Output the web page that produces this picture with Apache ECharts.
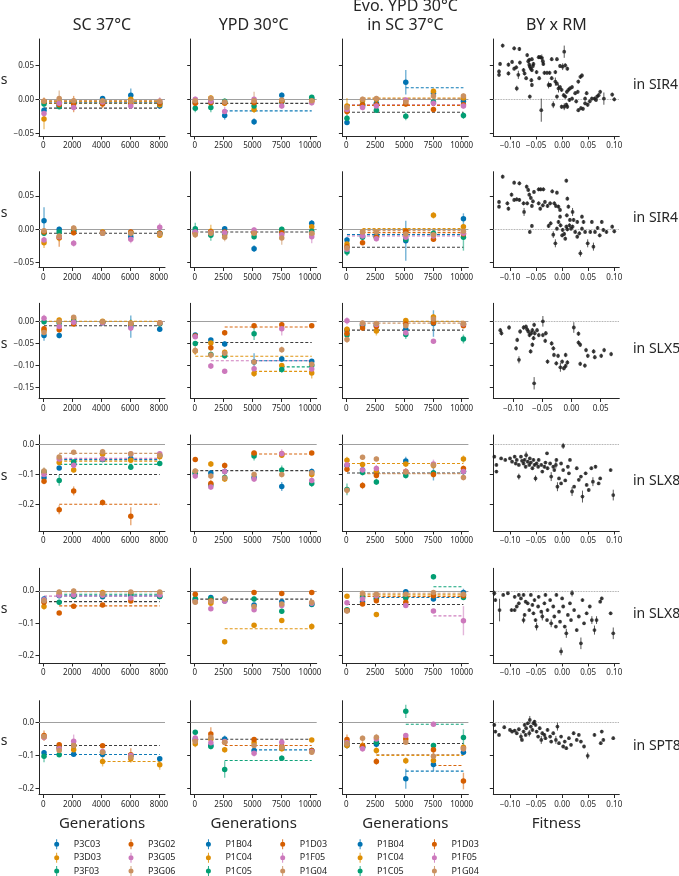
<!DOCTYPE html>
<html><head><meta charset="utf-8">
<script src="https://cdn.jsdelivr.net/npm/echarts@6/dist/echarts.min.js"></script>
<style>html,body{margin:0;padding:0;background:#fff}#c{width:679px;height:876px}</style>
</head><body><div id="c"></div>
<script>
// ---------------- DATA ----------------
const STRAINS_P3 = ['P3C03','P3D03','P3F03','P3G02','P3G05','P3G06'];
const STRAINS_P1 = ['P1B04','P1C04','P1C05','P1D03','P1F05','P1G04'];
const GEN_SC = [50, 1100, 2100, 4100, 6050, 8050];
const GEN_YPD = [50, 1400, 2600, 5150, 7550, 10150];
const COL_TITLES = ['SC 37°C', 'YPD 30°C', 'Evo. YPD 30°C\nin SC 37°C', 'BY x RM'];
const ROW_LABELS = ['in SIR4', 'in SIR4', 'in SLX5', 'in SLX8', 'in SLX8', 'in SPT8'];
const X_LABELS = ['Generations', 'Generations', 'Generations', 'Fitness'];
const X_TICKS_SC = [0, 2000, 4000, 6000, 8000];
const X_TICKS_YPD = [0, 2500, 5000, 7500, 10000];
const X_TICKS_FIT = [-0.10, -0.05, 0.00, 0.05, 0.10];
const X_TICKS_FIT_SLX5 = [-0.10, -0.05, 0.00, 0.05];
const Y_TICKS = [[0.05, 0, -0.05], [0.05, 0, -0.05], [0, -0.05, -0.10, -0.15], [0, -0.1, -0.2], [0, -0.1, -0.2], [0, -0.1, -0.2]];
const Y_DECIMALS = [2, 2, 2, 1, 1, 1];

// series order: [blue, orange, green, red, pink, tan]; values per generation
const r1c1_s = [[-0.016,-0.009,-0.006,0.001,0.006,-0.010],[-0.029,-0.005,-0.004,-0.003,0.000,-0.008],[-0.007,-0.011,-0.005,-0.003,-0.004,-0.006],[-0.003,-0.008,-0.007,-0.007,-0.006,-0.006],[-0.021,-0.006,-0.012,-0.004,-0.010,-0.003],[-0.003,0.001,-0.002,-0.002,-0.003,-0.003]];
const r1c1_e = [[0.004,0.003,0.003,0.003,0.010,0.003],[0.015,0.004,0.004,0.003,0.004,0.003],[0.004,0.003,0.003,0.003,0.003,0.003],[0.004,0.004,0.012,0.006,0.004,0.003],[0.005,0.004,0.004,0.003,0.004,0.006],[0.006,0.012,0.004,0.003,0.004,0.004]];
const r1c1_l = [[-1,50,-0.013],[3,50,-0.006],[0,1100,-0.005],[2,50,-0.005],[4,50,-0.004],[1,50,-0.003],[5,50,-0.002]];

const r1c2_s = [[-0.005,-0.004,-0.024,-0.033,0.006,0.001],[-0.003,0.002,-0.006,-0.015,-0.002,-0.001],[-0.013,-0.012,-0.003,-0.010,-0.004,0.003],[-0.006,-0.005,-0.005,-0.005,-0.003,-0.003],[0.000,-0.003,-0.018,0.000,-0.010,-0.005],[-0.002,0.001,-0.004,-0.002,-0.001,-0.002]];
const r1c2_e = [[0.003,0.003,0.006,0.005,0.004,0.003],[0.004,0.004,0.004,0.005,0.003,0.003],[0.006,0.007,0.004,0.004,0.003,0.003],[0.003,0.003,0.003,0.003,0.003,0.003],[0.004,0.004,0.007,0.003,0.004,0.004],[0.004,0.004,0.005,0.013,0.004,0.004]];
const r1c2_l = [[-1,50,-0.006],[0,2600,-0.017]];

const r1c3_s = [[-0.034,-0.010,-0.006,0.025,0.009,-0.003],[-0.010,-0.002,0.000,-0.002,0.012,0.002],[-0.028,-0.008,-0.016,-0.025,-0.004,-0.024],[-0.018,-0.008,-0.008,-0.007,-0.015,-0.008],[-0.015,-0.012,-0.010,-0.001,-0.006,-0.010],[-0.012,0.000,0.001,-0.004,0.005,0.005]];
const r1c3_e = [[0.004,0.003,0.003,0.018,0.004,0.003],[0.012,0.004,0.004,0.004,0.004,0.004],[0.005,0.004,0.004,0.006,0.003,0.005],[0.005,0.003,0.003,0.004,0.004,0.003],[0.004,0.004,0.004,0.003,0.004,0.004],[0.005,0.004,0.004,0.004,0.004,0.004]];
const r1c3_l = [[0,5150,0.017],[1,1400,0.002],[5,1400,0.001],[4,50,-0.008],[3,50,-0.009],[-1,50,-0.019]];

const r2c1_s = [[0.013,0.000,-0.003,-0.005,-0.011,-0.006],[-0.020,-0.013,0.001,-0.004,-0.005,-0.009],[-0.006,-0.004,-0.002,-0.006,-0.005,-0.006],[-0.004,-0.012,-0.005,-0.005,-0.004,-0.006],[-0.016,-0.011,-0.021,-0.006,-0.015,0.003],[-0.002,-0.010,0.002,-0.006,-0.006,-0.007]];
const r2c1_e = [[0.020,0.004,0.003,0.003,0.004,0.003],[0.008,0.005,0.004,0.004,0.004,0.004],[0.004,0.004,0.003,0.003,0.003,0.004],[0.004,0.014,0.004,0.003,0.004,0.003],[0.005,0.005,0.005,0.004,0.006,0.006],[0.004,0.008,0.004,0.004,0.004,0.004]];
const r2c1_l = [[-1,50,-0.006]];

const r2c2_s = [[-0.003,-0.006,0.001,-0.029,-0.004,0.009],[-0.005,-0.003,-0.008,-0.005,-0.001,0.004],[0.001,-0.009,-0.006,-0.011,0.000,-0.003],[-0.006,-0.004,-0.004,-0.005,-0.005,-0.007],[-0.004,-0.005,-0.005,-0.001,-0.008,-0.011],[-0.008,-0.006,-0.012,-0.006,-0.013,-0.006]];
const r2c2_e = [[0.003,0.004,0.003,0.005,0.003,0.005],[0.004,0.010,0.004,0.004,0.004,0.004],[0.009,0.008,0.004,0.004,0.004,0.005],[0.004,0.004,0.004,0.004,0.004,0.004],[0.004,0.004,0.004,0.004,0.004,0.010],[0.005,0.005,0.006,0.004,0.010,0.005]];
const r2c2_l = [[-1,50,-0.004]];

const r2c3_s = [[-0.016,-0.010,-0.010,-0.017,-0.008,0.016],[-0.022,-0.004,-0.004,-0.002,0.021,0.004],[-0.034,-0.012,-0.012,-0.015,-0.006,-0.012],[-0.026,-0.020,-0.012,-0.003,-0.015,-0.007],[-0.030,-0.010,-0.014,-0.012,-0.010,-0.006],[-0.028,-0.004,-0.004,-0.007,-0.008,-0.003]];
const r2c3_e = [[0.005,0.004,0.004,0.030,0.004,0.008],[0.005,0.004,0.004,0.004,0.005,0.004],[0.006,0.004,0.004,0.005,0.004,0.020],[0.005,0.003,0.004,0.005,0.004,0.004],[0.005,0.004,0.004,0.004,0.004,0.004],[0.005,0.004,0.004,0.004,0.004,0.004]];
const r2c3_l = [[1,1400,0.001],[5,1400,-0.002],[3,1400,-0.005],[0,50,-0.008],[4,50,-0.010],[-1,50,-0.027]];

const r3c1_s = [[-0.032,-0.032,-0.003,-0.003,-0.012,-0.018],[-0.020,0.003,0.005,0.000,-0.004,-0.005],[-0.001,-0.004,0.000,-0.002,-0.008,-0.006],[-0.017,-0.019,-0.006,-0.002,-0.006,-0.004],[0.007,-0.012,-0.002,-0.003,-0.015,-0.004],[-0.025,-0.001,0.009,-0.001,-0.005,-0.003]];
const r3c1_e = [[0.012,0.006,0.004,0.004,0.025,0.005],[0.008,0.005,0.005,0.004,0.005,0.004],[0.006,0.004,0.004,0.004,0.012,0.004],[0.006,0.006,0.005,0.004,0.004,0.004],[0.008,0.006,0.004,0.004,0.007,0.005],[0.008,0.005,0.005,0.004,0.005,0.004]];
const r3c1_l = [[1,50,0.000],[-1,50,-0.010]];

const r3c2_s = [[-0.031,-0.042,-0.051,-0.092,-0.085,-0.090],[-0.067,-0.049,-0.070,-0.118,-0.100,-0.117],[-0.050,-0.075,-0.078,-0.028,-0.109,-0.100],[-0.033,-0.060,-0.026,-0.010,-0.008,-0.010],[-0.035,-0.101,-0.113,-0.107,-0.017,-0.108],[-0.066,-0.076,-0.072,-0.092,-0.064,-0.097]];
const r3c2_e = [[0.004,0.004,0.006,0.020,0.006,0.005],[0.008,0.006,0.006,0.008,0.006,0.012],[0.005,0.006,0.006,0.014,0.007,0.006],[0.004,0.006,0.006,0.004,0.005,0.004],[0.005,0.007,0.005,0.006,0.015,0.006],[0.010,0.008,0.006,0.006,0.007,0.010]];
const r3c2_l = [[3,2600,-0.013],[-1,50,-0.048],[1,50,-0.079],[4,1400,-0.089],[0,5150,-0.089],[2,7550,-0.103],[1,5150,-0.113]];

const r3c3_s = [[-0.020,-0.008,-0.008,-0.018,-0.005,-0.007],[-0.018,-0.006,-0.022,0.002,0.010,-0.006],[-0.031,-0.010,-0.010,-0.030,-0.002,-0.040],[-0.027,-0.015,-0.012,-0.006,-0.003,-0.010],[0.001,-0.005,-0.007,-0.026,-0.045,-0.006],[-0.041,-0.004,-0.005,-0.010,0.005,-0.005]];
const r3c3_e = [[0.005,0.004,0.004,0.005,0.030,0.004],[0.006,0.005,0.010,0.005,0.006,0.005],[0.006,0.005,0.005,0.010,0.005,0.010],[0.006,0.005,0.005,0.005,0.005,0.005],[0.008,0.005,0.005,0.006,0.005,0.005],[0.008,0.005,0.005,0.005,0.008,0.006]];
const r3c3_l = [[1,5150,0.000],[5,1400,-0.004],[-1,50,-0.020]];

const r4c1_s = [[-0.111,-0.078,-0.065,-0.050,-0.046,-0.036],[-0.095,-0.060,-0.085,-0.032,-0.052,-0.040],[-0.090,-0.120,-0.058,-0.050,-0.076,-0.063],[-0.123,-0.218,-0.155,-0.194,-0.240,null],[-0.100,-0.048,-0.069,-0.048,-0.031,-0.030],[-0.088,-0.041,-0.025,-0.024,-0.030,-0.035]];
const r4c1_e = [[0.008,0.006,0.006,0.006,0.006,0.006],[0.012,0.008,0.008,0.008,0.008,0.008],[0.010,0.018,0.008,0.006,0.008,0.008],[0.010,0.015,0.015,0.010,0.030,0],[0.010,0.008,0.010,0.008,0.008,0.008],[0.012,0.008,0.006,0.010,0.008,0.008]];
const r4c1_l = [[5,1100,-0.029],[4,1100,-0.046],[0,1100,-0.050],[1,1100,-0.055],[2,1100,-0.066],[-1,50,-0.100],[3,1100,-0.200]];

const r4c2_s = [[-0.097,-0.095,-0.090,-0.110,-0.140,-0.090],[-0.090,-0.065,-0.115,-0.030,-0.035,-0.100],[-0.095,-0.135,-0.110,-0.038,-0.085,-0.130],[-0.050,-0.130,-0.070,-0.028,-0.030,-0.028],[-0.105,-0.142,-0.090,-0.115,-0.030,-0.120],[-0.088,-0.105,-0.112,-0.100,-0.100,-0.094]];
const r4c2_e = [[0.008,0.010,0.010,0.010,0.015,0.010],[0.008,0.010,0.010,0.008,0.010,0.010],[0.008,0.010,0.010,0.015,0.015,0.012],[0.008,0.012,0.010,0.008,0.010,0.006],[0.010,0.010,0.015,0.010,0.015,0.010],[0.008,0.010,0.010,0.010,0.010,0.010]];
const r4c2_l = [[3,5150,-0.031],[-1,50,-0.087]];

const r4c3_s = [[-0.070,-0.085,-0.095,-0.055,-0.095,-0.090],[-0.052,-0.066,-0.090,-0.065,-0.070,-0.048],[-0.150,-0.093,-0.125,-0.103,-0.095,-0.090],[-0.082,-0.137,-0.103,-0.090,-0.100,-0.080],[-0.067,-0.085,-0.080,-0.090,-0.065,-0.090],[-0.153,-0.042,-0.048,-0.092,-0.068,-0.110]];
const r4c3_e = [[0.008,0.008,0.008,0.015,0.025,0.010],[0.012,0.008,0.008,0.010,0.010,0.012],[0.020,0.010,0.010,0.010,0.010,0.010],[0.010,0.012,0.010,0.010,0.010,0.010],[0.010,0.010,0.012,0.010,0.015,0.010],[0.012,0.008,0.008,0.010,0.010,0.010]];
const r4c3_l = [[1,50,-0.063],[-1,50,-0.095],[5,1400,-0.097]];

const r5c1_s = [[-0.025,-0.015,-0.013,-0.018,-0.012,-0.017],[-0.048,-0.008,-0.015,-0.005,-0.006,-0.008],[-0.030,-0.035,-0.016,-0.015,-0.012,-0.017],[-0.035,-0.068,-0.047,-0.043,-0.031,null],[-0.027,-0.013,-0.012,-0.013,-0.022,-0.012],[-0.030,-0.003,0.000,-0.008,-0.003,-0.003]];
const r5c1_e = [[0.008,0.005,0.005,0.005,0.005,0.006],[0.010,0.006,0.006,0.005,0.005,0.006],[0.008,0.008,0.006,0.005,0.005,0.006],[0.008,0.006,0.006,0.005,0.006,0],[0.008,0.006,0.006,0.005,0.008,0.006],[0.008,0.008,0.008,0.006,0.005,0.006]];
const r5c1_l = [[5,1100,-0.002],[2,1100,-0.010],[0,1100,-0.015],[4,50,-0.016],[-1,50,-0.033],[3,1100,-0.046]];

const r5c2_s = [[-0.027,-0.020,-0.030,-0.043,-0.033,-0.042],[-0.030,-0.038,-0.157,-0.106,-0.091,-0.110],[-0.023,-0.024,-0.030,-0.025,-0.063,-0.040],[-0.010,-0.030,-0.027,-0.005,-0.008,-0.005],[-0.033,-0.055,-0.032,-0.058,-0.045,-0.038],[-0.035,-0.032,-0.025,-0.048,-0.040,-0.035]];
const r5c2_e = [[0.006,0.006,0.006,0.006,0.006,0.006],[0.006,0.006,0.008,0.006,0.006,0.010],[0.006,0.006,0.006,0.008,0.008,0.006],[0.005,0.006,0.006,0.005,0.005,0.005],[0.006,0.006,0.006,0.006,0.006,0.006],[0.006,0.008,0.006,0.006,0.006,0.006]];
const r5c2_l = [[-1,50,-0.025],[1,2600,-0.117]];

const r5c3_s = [[-0.060,-0.033,-0.025,-0.002,-0.025,-0.005],[-0.016,-0.015,-0.073,-0.020,-0.010,-0.012],[-0.058,-0.020,-0.022,-0.022,0.044,-0.020],[-0.060,-0.040,-0.030,-0.035,-0.015,-0.015],[-0.036,-0.025,-0.015,-0.045,-0.062,-0.092],[-0.062,-0.007,-0.010,-0.010,-0.005,-0.010]];
const r5c3_e = [[0.006,0.006,0.006,0.006,0.006,0.012],[0.006,0.006,0.008,0.006,0.006,0.006],[0.006,0.006,0.006,0.006,0.008,0.006],[0.006,0.006,0.006,0.006,0.006,0.006],[0.006,0.006,0.006,0.006,0.006,0.045],[0.006,0.006,0.006,0.006,0.006,0.006]];
const r5c3_l = [[2,7550,0.013],[5,1400,-0.007],[1,1400,-0.012],[3,1400,-0.017],[0,2600,-0.020],[-1,50,-0.042],[4,7550,-0.077]];

const r6c1_s = [[-0.092,-0.076,-0.096,-0.097,-0.100,-0.110],[-0.045,-0.078,-0.083,-0.118,-0.110,-0.128],[-0.102,-0.098,-0.070,-0.090,-0.100,null],[-0.040,-0.068,-0.070,-0.071,-0.098,null],[-0.045,-0.080,-0.057,-0.088,-0.100,null],[-0.043,-0.085,-0.070,-0.090,-0.105,null]];
const r6c1_e = [[0.008,0.006,0.006,0.006,0.006,0.006],[0.010,0.008,0.008,0.015,0.012,0.015],[0.018,0.006,0.006,0.006,0.006,0],[0.015,0.006,0.006,0.006,0.020,0],[0.010,0.006,0.020,0.008,0.008,0],[0.008,0.006,0.006,0.006,0.010,0]];
const r6c1_l = [[-1,50,-0.070],[0,50,-0.097],[1,4100,-0.118]];

const r6c2_s = [[-0.050,-0.070,-0.050,-0.085,-0.078,-0.085],[-0.065,-0.050,-0.083,-0.062,-0.080,-0.053],[-0.030,-0.073,-0.142,null,-0.108,null],[-0.055,-0.035,-0.060,-0.052,-0.072,-0.085],[-0.047,-0.062,-0.058,-0.093,-0.060,-0.088],[-0.058,-0.045,-0.060,-0.070,-0.075,-0.090]];
const r6c2_e = [[0.008,0.008,0.010,0.010,0.008,0.008],[0.010,0.008,0.008,0.008,0.008,0.006],[0.006,0.008,0.025,0,0.008,0],[0.008,0.020,0.008,0.008,0.008,0.008],[0.008,0.008,0.008,0.010,0.008,0.010],[0.008,0.008,0.008,0.008,0.008,0.008]];
const r6c2_l = [[-1,50,-0.051],[3,2600,-0.070],[0,5150,-0.083],[2,2600,-0.115]];

const r6c3_s = [[-0.070,-0.075,-0.066,-0.170,-0.127,-0.090],[-0.070,-0.070,-0.085,-0.116,-0.115,-0.075],[-0.060,-0.075,-0.060,0.033,-0.070,-0.046],[-0.052,-0.072,-0.118,-0.050,-0.083,-0.177],[-0.062,-0.080,-0.050,-0.040,-0.006,-0.080],[-0.065,-0.048,-0.045,-0.060,-0.102,-0.080]];
const r6c3_e = [[0.008,0.008,0.008,0.030,0.020,0.008],[0.010,0.008,0.010,0.010,0.008,0.008],[0.008,0.008,0.008,0.020,0.008,0.025],[0.015,0.015,0.010,0.008,0.015,0.025],[0.008,0.008,0.008,0.008,0.008,0.008],[0.008,0.008,0.010,0.008,0.008,0.008]];
const r6c3_l = [[2,5150,-0.006],[-1,50,-0.064],[5,2600,-0.097],[1,2600,-0.100],[3,7550,-0.130],[0,5150,-0.147]];

// BY x RM panels: [fitness, s, (error)]
const r1c4 = [[-0.114,0.079],[-0.092,0.075],[-0.082,0.074],[-0.119,0.052],[-0.121,0.041],[-0.121,0.036],[-0.103,0.051],[-0.103,0.038],[-0.096,0.055],[-0.092,0.045],[-0.088,0.047],[-0.084,0.036,0.006],[-0.087,0.016,0.004],[-0.081,0.054],[-0.074,0.043],[-0.072,0.038],[-0.069,0.031],[-0.067,0.065],[-0.065,0.056],[-0.063,0.051],[-0.062,0.048],[-0.060,0.045],[-0.058,0.043],[-0.056,0.049],[-0.055,0.052],[-0.058,0.059],[-0.063,0.058],[-0.059,0.028],[-0.062,0.004],[-0.058,0.021],[-0.049,0.040],[-0.045,0.062],[-0.042,0.062],[-0.039,0.061,0.005],[-0.037,0.056,0.006],[-0.040,-0.016,0.017],[-0.044,0.031],[-0.034,0.039],[-0.029,0.039],[-0.024,0.039],[-0.020,0.059],[-0.010,0.059],[-0.026,0.021,0.005],[-0.020,0.031],[-0.017,-0.008,0.005],[-0.013,0.026,0.006],[-0.010,0.023],[-0.010,0.004],[-0.007,0.016,0.006],[-0.004,0.018],[-0.001,0.014],[-0.004,0.049],[0.001,0.048,0.005],[0.004,0.070,0.009],[0.006,0.050],[0.010,0.045],[-0.001,-0.011],[0.004,-0.011,0.005],[0.008,-0.008],[0.010,-0.011],[0.003,0.006],[0.006,0.004],[0.009,0.011],[0.012,0.014],[0.015,0.016],[0.019,0.018],[0.014,-0.001],[0.019,0.001],[0.025,0.009],[0.030,0.011],[0.031,0.026],[0.035,0.033],[0.038,0.035],[0.031,-0.016],[0.036,-0.013],[0.040,-0.014],[0.027,-0.003],[0.044,-0.006],[0.049,-0.008],[0.053,-0.003],[0.047,0.009],[0.044,0.001],[0.057,0.001],[0.062,0.001],[0.067,0.004],[0.070,0.006],[0.073,0.011],[0.080,0.001,0.009],[0.065,-0.001],[0.096,0.007],[0.100,0.000],[-0.013,0.040],[-0.023,0.021],[-0.036,0.052]];
const r2c4 = [[-0.114,0.079],[-0.092,0.070],[-0.082,0.069],[-0.121,0.041],[-0.121,0.034],[-0.105,0.039],[-0.103,0.031],[-0.097,0.052],[-0.092,0.044],[-0.087,0.045],[-0.082,0.044],[-0.074,0.039],[-0.073,0.026,0.006],[-0.068,0.064],[-0.065,0.059],[-0.063,0.052],[-0.060,0.047],[-0.056,0.042],[-0.067,0.039],[-0.058,0.035],[-0.054,0.056],[-0.062,-0.004],[-0.058,0.005],[-0.045,0.060],[-0.041,0.060],[-0.036,0.060],[-0.045,0.039],[-0.042,0.031],[-0.037,0.036],[-0.033,0.041],[-0.028,0.035],[-0.023,0.039],[-0.019,0.057],[-0.010,0.055],[-0.015,0.039],[-0.012,0.035],[-0.007,0.034],[-0.004,0.029],[0.008,0.073],[0.010,0.046],[0.012,0.034],[-0.026,0.005],[-0.022,0.009],[-0.017,-0.008,0.005],[-0.013,-0.021,0.006],[-0.010,0.001],[-0.007,0.011],[-0.004,0.019],[-0.003,0.006],[0.001,-0.001],[0.004,-0.007],[0.008,0.004],[0.010,0.000],[0.014,0.006],[0.017,0.001],[0.020,0.004],[0.022,0.014],[0.020,0.026,0.006],[0.025,-0.004],[0.029,-0.011],[0.033,-0.006],[0.038,0.001],[0.041,0.011],[0.044,-0.004],[0.049,-0.021,0.006],[0.035,-0.036,0.005],[0.054,-0.004],[0.057,0.011],[0.060,-0.026,0.006],[0.063,-0.004],[0.068,0.002],[0.072,-0.009],[0.076,0.011],[0.079,-0.001],[0.085,-0.004],[0.096,0.004],[0.100,-0.003],[0.009,0.021],[0.015,0.014],[0.029,0.011],[0.038,0.019],[0.000,-0.009],[0.006,-0.014]];
const r3c4 = [[-0.122,-0.020],[-0.120,-0.027],[-0.107,-0.014],[-0.095,-0.061],[-0.093,-0.042],[-0.090,-0.087,0.008],[-0.088,-0.023],[-0.082,-0.014],[-0.078,-0.012],[-0.076,-0.018],[-0.074,-0.023],[-0.072,-0.031],[-0.069,-0.027],[-0.067,-0.020],[-0.065,-0.038],[-0.067,-0.053],[-0.070,-0.068],[-0.064,-0.008],[-0.063,-0.027],[-0.064,-0.140,0.014],[-0.059,-0.020],[-0.056,-0.031],[-0.049,0.000,0.012],[-0.049,-0.031],[-0.044,-0.027],[-0.045,-0.044],[-0.041,-0.091],[-0.034,-0.050],[-0.031,-0.061],[-0.030,-0.076],[-0.026,-0.095],[-0.023,-0.078],[-0.019,-0.104,0.010],[-0.016,-0.091],[-0.013,-0.106],[-0.010,-0.101],[-0.007,-0.093],[-0.010,-0.076],[0.004,-0.014,0.012],[0.012,-0.028],[0.012,-0.048],[0.015,-0.053],[0.015,-0.096],[0.025,-0.065],[0.028,-0.078],[0.023,-0.100],[0.040,-0.081],[0.038,-0.068],[0.051,-0.078],[0.056,-0.065],[0.068,-0.074]];
const r4c4 = [[-0.130,-0.040],[-0.126,-0.068],[-0.126,-0.090],[-0.117,-0.046],[-0.109,-0.051],[-0.100,-0.046],[-0.096,-0.057],[-0.091,-0.040],[-0.089,-0.063],[-0.087,-0.051],[-0.083,-0.068],[-0.083,-0.107,0.010],[-0.079,-0.040],[-0.077,-0.054],[-0.074,-0.063],[-0.072,-0.051],[-0.070,-0.074],[-0.069,-0.035,0.012],[-0.066,-0.057],[-0.063,-0.068],[-0.062,-0.046],[-0.060,-0.060],[-0.057,-0.079],[-0.055,-0.051],[-0.053,-0.068],[-0.051,-0.113,0.010],[-0.049,-0.063],[-0.046,-0.074],[-0.045,-0.051],[-0.040,-0.068],[-0.038,-0.090],[-0.034,-0.074],[-0.032,-0.060],[-0.029,-0.029],[-0.028,-0.079],[-0.023,-0.063],[-0.021,-0.107,0.015],[-0.017,-0.074],[-0.015,-0.085],[-0.012,-0.068,0.012],[-0.009,-0.141,0.015],[-0.006,-0.113],[-0.002,-0.130],[0.002,-0.004,0.010],[0.002,-0.085],[0.006,-0.120],[0.011,-0.074],[0.013,-0.096],[0.019,-0.157,0.015],[0.023,-0.141],[0.028,-0.079],[0.032,-0.118],[0.036,-0.107],[0.039,-0.174,0.020],[0.045,-0.096],[0.047,-0.135],[0.051,-0.152],[0.056,-0.079],[0.059,-0.124,0.015],[0.064,-0.074],[0.070,-0.130],[0.073,-0.113],[0.093,-0.085],[0.098,-0.169,0.018],[-0.002,-0.063],[0.015,-0.051],[-0.011,-0.051]];
const r5c4 = [[-0.130,-0.007,0.008],[-0.128,-0.028],[-0.120,-0.059,0.035],[-0.113,-0.012],[-0.104,-0.007],[-0.097,-0.059],[-0.091,-0.059],[-0.087,-0.048],[-0.083,-0.038],[-0.079,-0.023],[-0.074,-0.090,0.010],[-0.072,-0.074],[-0.070,-0.033],[-0.066,-0.038],[-0.063,-0.059],[-0.060,-0.012],[-0.057,-0.043],[-0.055,-0.069],[-0.053,-0.028],[-0.051,-0.090],[-0.049,-0.110,0.012],[-0.046,-0.048],[-0.045,-0.018],[-0.040,-0.064],[-0.038,-0.079,0.012],[-0.034,-0.038],[-0.032,-0.012],[-0.029,-0.090],[-0.028,-0.059],[-0.023,-0.028],[-0.021,-0.100,0.012],[-0.017,-0.048],[-0.015,-0.079],[-0.012,-0.110],[-0.011,-0.012],[-0.006,-0.064],[-0.004,-0.095],[-0.002,-0.187,0.012],[0.000,-0.023],[0.002,-0.048],[0.005,-0.110],[0.008,-0.131,0.014],[0.011,-0.074],[0.015,-0.038],[0.017,-0.090],[0.019,-0.007,0.010],[0.023,-0.059],[0.028,-0.121],[0.032,-0.079],[0.036,-0.162,0.018],[0.039,-0.028],[0.042,-0.100],[0.047,-0.069],[0.053,-0.048],[0.057,-0.090,0.012],[0.062,-0.121,0.014],[0.066,-0.090,0.012],[0.073,-0.033],[0.076,-0.023],[0.093,-0.069],[0.098,-0.131,0.018],[-0.091,-0.018],[-0.083,-0.012],[-0.074,-0.012]];
const r6c4 = [[-0.130,-0.008],[-0.128,-0.028],[-0.121,-0.038],[-0.111,-0.015],[-0.100,-0.023],[-0.096,-0.028],[-0.091,-0.025],[-0.087,-0.033],[-0.083,-0.021],[-0.079,-0.043,0.010],[-0.077,-0.053],[-0.074,-0.028],[-0.072,-0.008],[-0.070,-0.038],[-0.069,-0.018],[-0.066,-0.003],[-0.063,-0.033,0.010],[-0.062,0.007,0.012],[-0.060,-0.013],[-0.057,-0.023],[-0.055,-0.003],[-0.053,0.002],[-0.051,-0.008],[-0.049,-0.028],[-0.046,-0.043],[-0.043,-0.018],[-0.040,-0.053,0.012],[-0.038,-0.033],[-0.034,-0.038],[-0.032,-0.048],[-0.028,-0.023],[-0.023,-0.043],[-0.021,-0.058],[-0.017,-0.033],[-0.012,-0.053,0.012],[-0.009,-0.013,0.012],[-0.006,-0.063],[-0.002,-0.043],[0.002,-0.073],[0.005,-0.058],[0.008,-0.078],[0.013,-0.048],[0.017,-0.068],[0.022,-0.033],[0.028,-0.053],[0.032,-0.038],[0.036,-0.058],[0.042,-0.073],[0.049,-0.101,0.010],[0.062,-0.038],[0.074,-0.063],[0.079,-0.053],[0.076,-0.028],[0.098,-0.048]];

// ---------------- LAYOUT / STYLE ----------------
const COLORS = ['#0173b2', '#de8f05', '#029e73', '#d55e00', '#cc78bc', '#ca9161'];
const FONT = '"Noto Sans", "DejaVu Sans", sans-serif';
const INK = '#262626';
const GRID_L = [39, 190.7, 342.4, 493.3];
const GRID_W = 126;
const ROW_T = [39, 171.7, 303.3, 435, 568.3, 700.7];
const ROW_B = [136, 267.5, 398.5, 531, 663, 794.5];
const Y_RANGE = [[-0.054, 0.0887], [-0.0573, 0.0864], [-0.1744, 0.0407], [-0.2896, 0.0326], [-0.2229, 0.0703], [-0.2175, 0.065]];
const X_RANGE = [[-297, 8415], [-347, 10581], [-347, 10581]];
const FIT_RANGE = [[-0.132, 0.1096], [-0.132, 0.1096], [-0.134, 0.082], [-0.132, 0.1096], [-0.132, 0.1096], [-0.132, 0.1096]];
const FIT_ERR_DEFAULT = [0.003, 0.003, 0.005, 0.005, 0.005, 0.005];

const PANEL_S = [[r1c1_s, r1c2_s, r1c3_s], [r2c1_s, r2c2_s, r2c3_s], [r3c1_s, r3c2_s, r3c3_s], [r4c1_s, r4c2_s, r4c3_s], [r5c1_s, r5c2_s, r5c3_s], [r6c1_s, r6c2_s, r6c3_s]];
const PANEL_E = [[r1c1_e, r1c2_e, r1c3_e], [r2c1_e, r2c2_e, r2c3_e], [r3c1_e, r3c2_e, r3c3_e], [r4c1_e, r4c2_e, r4c3_e], [r5c1_e, r5c2_e, r5c3_e], [r6c1_e, r6c2_e, r6c3_e]];
const PANEL_L = [[r1c1_l, r1c2_l, r1c3_l], [r2c1_l, r2c2_l, r2c3_l], [r3c1_l, r3c2_l, r3c3_l], [r4c1_l, r4c2_l, r4c3_l], [r5c1_l, r5c2_l, r5c3_l], [r6c1_l, r6c2_l, r6c3_l]];
const FIT_DATA = [r1c4, r2c4, r3c4, r4c4, r5c4, r6c4];

function fmtNum(v, d) {
  const s = Math.abs(v).toFixed(d);
  return (v < -1e-9 ? '\u2212' : '') + s;
}

function errItem(params, api) {
  const x = api.value(0), y = api.value(1), e = api.value(2), k = api.value(3);
  if (!(e > 0)) return null;
  const a = api.coord([x, y - e]), b = api.coord([x, y + e]);
  const black = k < 0;
  return { type: 'line', silent: true,
    shape: { x1: a[0], y1: a[1], x2: b[0], y2: b[1] },
    style: { stroke: black ? '#222' : COLORS[k], lineWidth: black ? 1 : 1.4, opacity: black ? 0.75 : 0.55 } };
}
function segItem(params, api) {
  const a = api.coord([api.value(0), api.value(2)]), b = api.coord([api.value(1), api.value(2)]);
  const k = api.value(3);
  return { type: 'line', silent: true,
    shape: { x1: a[0], y1: a[1], x2: b[0], y2: b[1] },
    style: { stroke: k < 0 ? '#333' : COLORS[k], lineWidth: 1.1, lineDash: [3, 2], opacity: 0.95 } };
}

const grid = [], xAxis = [], yAxis = [], series = [], graphic = [];
for (let r = 0; r < 6; r++) {
  for (let c = 0; c < 4; c++) {
    const gi = r * 4 + c;
    grid.push({ left: GRID_L[c], top: ROW_T[r], width: GRID_W, height: ROW_B[r] - ROW_T[r] });
    let xt, xr, xf;
    if (c === 0) { xt = X_TICKS_SC; xr = X_RANGE[0]; xf = v => String(Math.round(v)); }
    else if (c < 3) { xt = X_TICKS_YPD; xr = X_RANGE[c]; xf = v => String(Math.round(v)); }
    else { xt = r === 2 ? X_TICKS_FIT_SLX5 : X_TICKS_FIT; xr = FIT_RANGE[r]; xf = v => fmtNum(v, 2); }
    xAxis.push({ gridIndex: gi, type: 'value', min: xr[0], max: xr[1],
      axisLine: { onZero: false, lineStyle: { color: INK, width: 1 } },
      axisTick: { customValues: xt, length: 3.5, lineStyle: { color: INK, width: 1 } },
      axisLabel: { customValues: xt, formatter: xf, fontSize: 8, color: INK, margin: 6, fontFamily: FONT },
      splitLine: { show: false } });
    yAxis.push({ gridIndex: gi, type: 'value', min: Y_RANGE[r][0], max: Y_RANGE[r][1],
      axisLine: { show: true, onZero: false, lineStyle: { color: INK, width: 1 } },
      axisTick: { show: true, customValues: Y_TICKS[r], length: 3.5, lineStyle: { color: INK, width: 1 } },
      axisLabel: { show: c === 0, customValues: Y_TICKS[r], formatter: v => fmtNum(v, Y_DECIMALS[r]), fontSize: 8, color: INK, margin: 5, fontFamily: FONT },
      splitLine: { show: false } });

    if (c < 3) {
      const gens = c === 0 ? GEN_SC : GEN_YPD;
      const names = c === 0 ? STRAINS_P3 : STRAINS_P1;
      const S = PANEL_S[r][c], E = PANEL_E[r][c], L = PANEL_L[r][c];
      const errData = [];
      for (let k = 0; k < 6; k++) {
        const pts = [];
        for (let g = 0; g < gens.length; g++) {
          if (S[k][g] === null) continue;
          pts.push([gens[g], S[k][g]]);
          errData.push([gens[g], S[k][g], E[k][g], k]);
        }
        const s = { type: 'scatter', name: names[k], xAxisIndex: gi, yAxisIndex: gi, data: pts,
          symbolSize: 5.5, itemStyle: { color: COLORS[k], opacity: 1 }, z: 5, silent: true };
        if (k === 0) {
          s.markLine = { silent: true, symbol: 'none', label: { show: false }, z: 1,
            lineStyle: { color: '#a0a0a0', type: 'solid', width: 1 }, data: [{ yAxis: 0 }] };
        }
        series.push(s);
      }
      series.push({ type: 'custom', xAxisIndex: gi, yAxisIndex: gi, renderItem: errItem, data: errData, z: 3, silent: true, encode: { x: 0, y: 1 } });
      const last = gens[gens.length - 1];
      series.push({ type: 'custom', xAxisIndex: gi, yAxisIndex: gi, renderItem: segItem,
        data: L.map(l => [l[1], last, l[2], l[0]]), z: 2, silent: true, encode: { x: [0, 1], y: 2 } });
    } else {
      const D = FIT_DATA[r];
      series.push({ type: 'scatter', xAxisIndex: gi, yAxisIndex: gi, data: D.map(p => [p[0], p[1]]),
        symbolSize: 3.8, itemStyle: { color: '#1a1a1a' }, z: 5, silent: true,
        markLine: { silent: true, symbol: 'none', label: { show: false }, z: 1,
          lineStyle: { color: '#8a8a8a', type: 'dotted', width: 0.8 }, data: [{ yAxis: 0 }] } });
      series.push({ type: 'custom', xAxisIndex: gi, yAxisIndex: gi, renderItem: errItem,
        data: D.map(p => [p[0], p[1], p.length > 2 ? p[2] : FIT_ERR_DEFAULT[r], -1]), z: 3, silent: true, encode: { x: 0, y: 1 } });
    }
  }
  const mid = (ROW_T[r] + ROW_B[r]) / 2;
  graphic.push({ type: 'text', left: 633, top: mid - 9, style: { text: ROW_LABELS[r], fontSize: 14, fontFamily: FONT, fill: INK } });
  graphic.push({ type: 'text', x: 4, y: mid - 7, style: { text: 's', fontSize: 14, fontFamily: FONT, fill: INK, align: 'center', verticalAlign: 'middle' } });
}
// column titles & x labels
for (let c = 0; c < 4; c++) {
  const cx = GRID_L[c] + GRID_W / 2;
  const lines = COL_TITLES[c].split('\n');
  if (lines.length === 1) {
    graphic.push({ type: 'text', x: cx, y: 25, style: { text: lines[0], fontSize: 16, fontFamily: FONT, fill: INK, align: 'center', verticalAlign: 'middle' } });
  } else {
    graphic.push({ type: 'text', x: cx, y: 6, style: { text: lines[0], fontSize: 16, fontFamily: FONT, fill: INK, align: 'center', verticalAlign: 'middle' } });
    graphic.push({ type: 'text', x: cx, y: 25, style: { text: lines[1], fontSize: 16, fontFamily: FONT, fill: INK, align: 'center', verticalAlign: 'middle' } });
  }
  graphic.push({ type: 'text', x: cx, y: 824, style: { text: X_LABELS[c], fontSize: 15, fontFamily: FONT, fill: INK, align: 'center', verticalAlign: 'middle' } });
}

// legends: one component per entry, two columns of three under each of the first three panels
const LEG_ICON = 'path://M1.5,7 A3.5,3.5 0 1,1 8.5,7 A3.5,3.5 0 1,1 1.5,7 Z M4.4,0 L5.6,0 L5.6,14 L4.4,14 Z';
const LEG_ROWS = [844.3, 857.7, 871];
const legend = [];
for (let c = 0; c < 3; c++) {
  const names = c === 0 ? STRAINS_P3 : STRAINS_P1;
  for (let k = 0; k < 6; k++) {
    const h = Math.floor(k / 3), row = k % 3;
    const markerX = 55.7 + c * 151.7 + h * 74.3;
    legend.push({ data: [names[k]], orient: 'vertical', left: markerX - 1.5, top: LEG_ROWS[row] - 5,
      padding: 0, itemGap: 0, itemWidth: 24, itemHeight: 10, icon: LEG_ICON, selectedMode: false,
      textStyle: { fontSize: 9, lineHeight: 10, color: INK, fontFamily: FONT } });
  }
}

const chart = echarts.init(document.getElementById('c'), null, { renderer: 'canvas' });
chart.setOption({ animation: false, backgroundColor: '#fff', grid, xAxis, yAxis, series, legend, graphic });
</script></body></html>
